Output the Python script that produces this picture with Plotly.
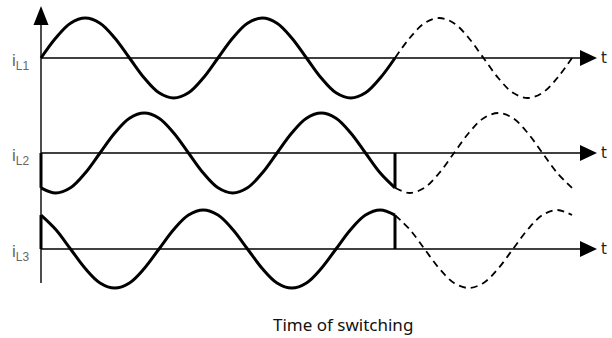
import plotly.graph_objects as go

# ---- data (phase angle in degrees, normalised current) ----
angle_solid = [0, 30, 60, 90, 120, 150, 180, 210, 240, 270, 300, 330, 360,
               390, 420, 450, 480, 510, 540, 570, 600, 630, 660, 690, 720]
angle_dashed = [720, 750, 780, 810, 840, 870, 900, 930, 960, 990, 1020, 1050, 1080]
switch_angle = 720

iL1_solid = [0, 0.5, 0.87, 1, 0.87, 0.5, 0, -0.5, -0.87, -1, -0.87, -0.5, 0,
             0.5, 0.87, 1, 0.87, 0.5, 0, -0.5, -0.87, -1, -0.87, -0.5, 0]
iL1_dashed = [0, 0.5, 0.87, 1, 0.87, 0.5, 0, -0.5, -0.87, -1, -0.87, -0.5, 0]

iL2_solid = [-0.87, -1, -0.87, -0.5, 0, 0.5, 0.87, 1, 0.87, 0.5, 0, -0.5, -0.87,
             -1, -0.87, -0.5, 0, 0.5, 0.87, 1, 0.87, 0.5, 0, -0.5, -0.87]
iL2_dashed = [-0.87, -1, -0.87, -0.5, 0, 0.5, 0.87, 1, 0.87, 0.5, 0, -0.5, -0.87]

iL3_solid = [0.87, 0.5, 0, -0.5, -0.87, -1, -0.87, -0.5, 0, 0.5, 0.87, 1, 0.87,
             0.5, 0, -0.5, -0.87, -1, -0.87, -0.5, 0, 0.5, 0.87, 1, 0.87]
iL3_dashed = [0.87, 0.5, 0, -0.5, -0.87, -1, -0.87, -0.5, 0, 0.5, 0.87, 1, 0.87]

row_labels = ["i<sub>L1</sub>", "i<sub>L2</sub>", "i<sub>L3</sub>"]
axis_label = "t"
caption = "Time of switching"

# ---- layout geometry ----
W, H = 612, 338
X0_PX = 41.0            # pixel of angle 0
PX_PER_DEG = 531.0 / 1080.0
row_base_px = [58, 153, 249]
row_amp_px = [40, 40, 39]

def deg_at(px):
    return (px - X0_PX) / PX_PER_DEG

def paper_y(py):
    return 1 - py / H

x_range = [deg_at(0), deg_at(W)]

fig = go.Figure()
yaxes = ["y", "y2", "y3"]
solids = [iL1_solid, iL2_solid, iL3_solid]
dashes = [iL1_dashed, iL2_dashed, iL3_dashed]

for i in range(3):
    ya = yaxes[i]
    fig.add_trace(go.Scatter(x=angle_solid, y=solids[i], mode="lines", yaxis=ya,
                             line=dict(color="black", width=3, shape="spline", smoothing=1.0),
                             hoverinfo="skip", showlegend=False))
    fig.add_trace(go.Scatter(x=angle_dashed, y=dashes[i], mode="lines", yaxis=ya,
                             line=dict(color="black", width=1.8, shape="spline", smoothing=1.0,
                                       dash="7px,5px"),
                             hoverinfo="skip", showlegend=False))
    # vertical jumps at start and at the switching instant
    for a, v in ((angle_solid[0], solids[i][0]), (switch_angle, solids[i][-1])):
        if abs(v) > 0.01:
            fig.add_trace(go.Scatter(x=[a, a], y=[0, v], mode="lines", yaxis=ya,
                                     line=dict(color="black", width=3),
                                     hoverinfo="skip", showlegend=False))

shapes = []
annotations = []
arrow_base_px, arrow_tip_px = 580, 597
for i in range(3):
    yb = row_base_px[i]
    # horizontal time axis
    shapes.append(dict(type="line", xref="x", yref="paper",
                       x0=0, x1=deg_at(arrow_base_px), y0=paper_y(yb), y1=paper_y(yb),
                       line=dict(color="black", width=1.4)))
    xb, xt = deg_at(arrow_base_px), deg_at(arrow_tip_px)
    shapes.append(dict(type="path", xref="x", yref="paper",
                       path=f"M {xb},{paper_y(yb-8)} L {xt},{paper_y(yb)} L {xb},{paper_y(yb+8)} Z",
                       fillcolor="black", line=dict(color="black", width=0)))
    annotations.append(dict(x=deg_at(604), y=paper_y(yb), xref="x", yref="paper",
                            text=axis_label, showarrow=False, xanchor="center", yanchor="middle",
                            font=dict(family="DejaVu Sans", size=15, color="#222")))
    annotations.append(dict(x=deg_at(20), y=paper_y(yb + 4), xref="x", yref="paper",
                            text=row_labels[i], showarrow=False, xanchor="center", yanchor="middle",
                            font=dict(family="Liberation Sans", size=17, color="#666")))

# vertical axis with arrow
shapes.append(dict(type="line", xref="x", yref="paper", x0=0, x1=0,
                   y0=paper_y(24), y1=paper_y(283), line=dict(color="black", width=1.4)))
shapes.append(dict(type="path", xref="x", yref="paper",
                   path=f"M {deg_at(33.5)},{paper_y(25)} L {deg_at(41)},{paper_y(6)} L {deg_at(48.5)},{paper_y(25)} Z",
                   fillcolor="black", line=dict(color="black", width=0)))

annotations.append(dict(x=deg_at(343), y=paper_y(324), xref="x", yref="paper",
                        text=caption, showarrow=False, xanchor="center", yanchor="middle",
                        font=dict(family="Noto Sans", size=17, color="#111")))

def yrange(i):
    yb, a = row_base_px[i], row_amp_px[i]
    return [-(H - yb) / a, yb / a]

hidden = dict(visible=False, showgrid=False, zeroline=False, fixedrange=True)
fig.update_layout(
    width=W, height=H, autosize=False,
    margin=dict(l=0, r=0, t=0, b=0),
    paper_bgcolor="white", plot_bgcolor="white",
    xaxis=dict(range=x_range, domain=[0, 1], **hidden),
    yaxis=dict(range=yrange(0), domain=[0, 1], **hidden),
    yaxis2=dict(range=yrange(1), overlaying="y", **hidden),
    yaxis3=dict(range=yrange(2), overlaying="y", **hidden),
    shapes=shapes, annotations=annotations,
)

fig.write_html("out.html", config={"displayModeBar": False},
               post_script="document.body.style.margin='0';document.body.style.overflow='hidden';")
